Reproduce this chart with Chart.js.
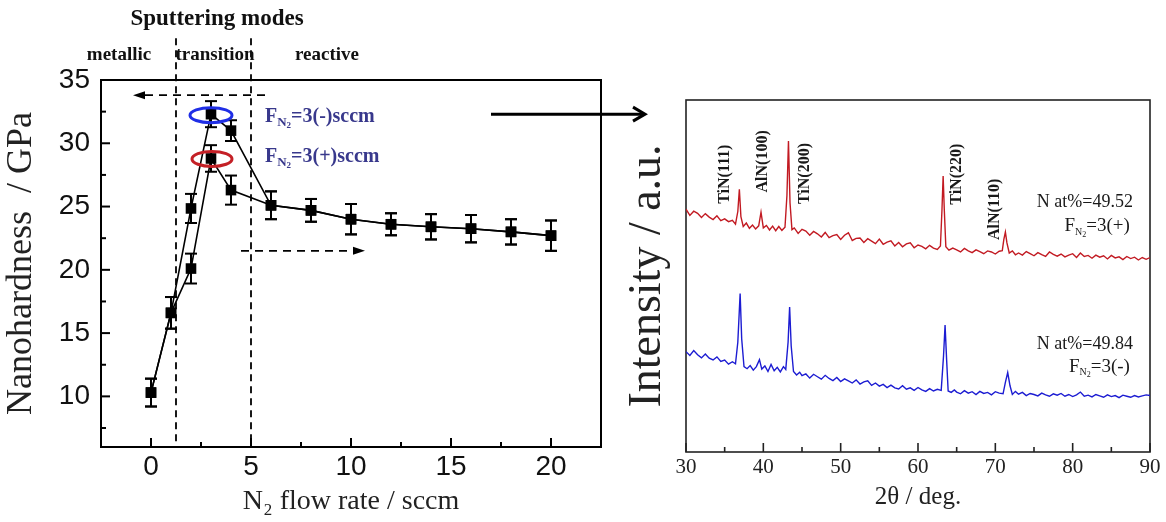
<!DOCTYPE html>
<html>
<head>
<meta charset="utf-8">
<script src="https://cdn.jsdelivr.net/npm/chart.js@4.4.1/dist/chart.umd.min.js"></script>
<style>
  html, body { margin: 0; padding: 0; background: #fff; }
  #wrap { position: relative; width: 1166px; height: 522px; overflow: hidden; }
  canvas { position: absolute; top: 0; }
  #hard { left: 0; }
  #xrd { left: 620px; }
</style>
</head>
<body>
<div id="wrap">
  <canvas id="xrd" width="546" height="522"></canvas>
  <canvas id="hard" width="660" height="522"></canvas>
</div>
<script>
// ---- left panel: nanohardness vs N2 flow ----
const flowRate      = [0, 1, 2, 3, 4, 6, 8, 10, 12, 14, 16, 18, 20];
const hardnessPlus  = [10.3, 16.6, 20.1, 28.8, 26.3, 25.1, 24.7, 24.0, 23.6, 23.4, 23.25, 23.0, 22.7];
const errPlus       = [1.1, 1.25, 1.18, 1.05, 1.15, 1.1, 0.9, 1.2, 0.87, 1.0, 1.08, 1.0, 1.2];
const hardnessMinus = [10.3, 16.6, 24.85, 32.3, 31.0, 25.1, 24.7, 24.0, 23.6, 23.4, 23.25, 23.0, 22.7];
const errMinus      = [1.1, 1.25, 1.15, 1.03, 0.82, 1.1, 0.9, 1.2, 0.87, 1.0, 1.08, 1.0, 1.2];
const flowTicks  = [0, 5, 10, 15, 20];
const flowMinor  = [2.5, 7.5, 12.5, 17.5];
const hardTicks  = [10, 15, 20, 25, 30, 35];
const hardMinor  = [7.5, 12.5, 17.5, 22.5, 27.5, 32.5];
const modeBounds = [1.25, 5];
const modeNames  = ['metallic', 'transition', 'reactive'];

// ---- right panel: XRD patterns ----
const redTheta = [30,30.5,31,31.5,32,32.5,33,33.5,34,34.5,35,35.5,36,36.4,
  36.7,36.9,37.1,37.4,37.8,38.2,38.6,39,39.4,39.7,40,40.4,40.8,41.2,41.6,42,42.4,42.8,43.05,43.25,43.45,43.7,
  44,44.5,45,45.5,46,46.5,47,47.5,48,48.5,49,49.5,50,50.5,51,51.5,52,52.5,53,53.5,54,54.5,55,55.5,56,56.5,57,57.5,58,58.5,59,59.5,60,60.5,61,61.5,62,62.5,
  62.9,63.1,63.25,63.4,63.6,
  64,64.5,65,65.5,66,66.5,67,67.5,68,68.5,69,69.5,70,70.5,
  70.9,71.1,71.3,71.5,71.8,72.2,72.6,
  73,73.5,74,74.5,75,75.5,76,76.5,77,77.5,78,78.5,79,79.5,80,80.5,81,81.5,82,82.5,83,83.5,84,84.5,85,85.5,86,86.5,87,87.5,88,88.5,89,89.5,90];
const redCounts = [68.2,66.4,67.6,67.0,65.8,66.9,65.9,65.2,66.3,64.9,65.4,64.6,65.0,63.9,
  67.5,73.9,66.0,63.2,64.2,62.7,63.6,62.5,63.4,67.3,62.8,63.5,62.2,63.3,62.0,63.2,62.1,63.0,72.0,87.7,70.0,62.3,
  62.8,61.2,62.4,61.9,60.7,61.8,61.1,60.2,61.5,60.0,60.6,60.9,59.5,60.7,61.4,59.2,59.8,59.9,58.6,59.7,59.0,58.3,59.6,58.1,58.7,59.1,57.6,58.6,57.4,58.2,58.5,57.1,57.9,57.5,56.8,57.8,57.0,56.6,
  57.6,68.0,77.7,68.0,57.4,
  56.4,57.0,56.5,55.9,56.9,56.2,55.7,56.5,56.0,55.4,56.2,55.9,55.3,56.1,
  56.3,59.5,61.6,58.5,55.6,56.2,55.1,
  55.6,55.0,56.0,55.4,54.8,55.7,55.1,54.6,55.9,55.2,54.7,55.3,54.5,55.0,55.4,54.3,55.6,54.6,54.9,54.1,55.0,54.4,54.8,53.9,54.9,54.2,54.5,53.7,54.6,54.0,54.4,53.6,54.3,53.8,54.3];
const blueTheta = [30,30.5,31,31.5,32,32.5,33,33.5,34,34.5,35,35.5,36,36.4,
  36.7,37.0,37.2,37.5,37.9,38.3,38.7,39.1,39.5,39.8,40.2,40.6,41.0,41.4,41.8,42.2,42.6,42.9,43.2,43.4,43.6,43.9,
  44.3,44.7,45,45.5,46,46.5,47,47.5,48,48.5,49,49.5,50,50.5,51,51.5,52,52.5,53,53.5,54,54.5,55,55.5,56,56.5,57,57.5,58,58.5,59,59.5,60,60.5,61,61.5,62,62.5,
  63.0,63.3,63.5,63.7,63.9,
  64.3,64.7,65,65.5,66,66.5,67,67.5,68,68.5,69,69.5,70,70.5,
  71.0,71.3,71.6,71.9,72.2,72.6,
  73,73.5,74,74.5,75,75.5,76,76.5,77,77.5,78,78.5,79,79.5,80,80.5,81,81.5,82,82.5,83,83.5,84,84.5,85,85.5,86,86.5,87,87.5,88,88.5,89,89.5,90];
const blueCounts = [27.3,26.2,27.6,26.4,25.5,26.6,25.4,24.9,25.8,24.5,24.9,23.7,24.4,23.8,
  30.0,44.0,31.0,23.0,22.4,23.3,22.0,23.0,25.0,22.3,23.2,21.6,23.6,21.8,22.8,21.5,23.0,22.2,30.0,40.1,29.0,21.6,
  20.6,21.4,20.4,20.9,19.7,20.8,20.1,19.4,20.5,19.6,19.0,19.9,18.7,19.5,18.9,18.3,19.2,18.0,18.6,18.9,17.6,18.3,17.4,17.9,17.0,17.7,16.9,16.6,17.5,16.5,16.9,16.2,17.0,16.3,15.9,16.7,16.0,16.5,
  16.2,26.0,34.9,25.0,16.0,
  15.6,16.3,15.7,15.2,16.1,15.4,15.8,15.0,15.9,15.3,15.6,14.9,15.8,15.4,
  15.2,18.5,21.3,17.5,15.0,15.9,
  15.1,15.6,14.7,15.3,15.0,14.6,15.4,14.9,14.5,15.2,14.8,15.3,14.5,15.0,14.4,14.9,15.7,14.5,14.8,14.3,15.0,14.6,14.2,14.9,14.4,14.7,14.1,14.8,14.5,14.2,14.7,14.3,14.6,14.9,14.7];
const thetaTicks = [30, 40, 50, 60, 70, 80, 90];
const thetaMinor = [35, 45, 55, 65, 75, 85];
const peakNames  = ['TiN(111)', 'AlN(100)', 'TiN(200)', 'TiN(220)', 'AlN(110)'];

const SERIF = '"Liberation Serif", "Times New Roman", serif';
const SANS = '"Liberation Sans", Arial, sans-serif';

function seg(ctx, x1, y1, x2, y2) {
  ctx.beginPath(); ctx.moveTo(x1, y1); ctx.lineTo(x2, y2); ctx.stroke();
}
const pairs = (xs, ys) => xs.map((v, i) => ({ x: v, y: ys[i] }));

// F with N2 subscript; align 'left' or 'right'
function drawFlowLabel(ctx, px, py, tail, big, sub, subsub, weight, color, align) {
  ctx.save();
  ctx.fillStyle = color;
  ctx.textBaseline = 'middle';
  ctx.textAlign = 'left';
  const fBig = `${weight} ${big}px ${SERIF}`, fSub = `${weight} ${sub}px ${SERIF}`, fSS = `${weight} ${subsub}px ${SERIF}`;
  ctx.font = fBig; const wF = ctx.measureText('F').width, wT = ctx.measureText(tail).width;
  ctx.font = fSub; const wN = ctx.measureText('N').width;
  ctx.font = fSS; const w2 = ctx.measureText('2').width;
  let x0 = align === 'right' ? px - (wF + wN + w2 + wT) : px;
  ctx.font = fBig; ctx.fillText('F', x0, py); x0 += wF;
  ctx.font = fSub; ctx.fillText('N', x0, py + big * 0.3); x0 += wN;
  ctx.font = fSS; ctx.fillText('2', x0, py + big * 0.45); x0 += w2;
  ctx.font = fBig; ctx.fillText(tail, x0, py);
  ctx.restore();
}

const hardDeco = {
  id: 'hardDeco',
  beforeDatasetsDraw(chart) {
    const { ctx, chartArea: a, scales: { x, y } } = chart;
    ctx.save();
    ctx.strokeStyle = '#000';
    ctx.fillStyle = '#000';
    ctx.lineWidth = 2;
    ctx.strokeRect(a.left, a.top, a.right - a.left, a.bottom - a.top);
    flowTicks.forEach(v => { const p = x.getPixelForValue(v); seg(ctx, p, a.bottom, p, a.bottom - 9); });
    flowMinor.forEach(v => { const p = x.getPixelForValue(v); seg(ctx, p, a.bottom, p, a.bottom - 5); });
    hardTicks.forEach(v => { const p = y.getPixelForValue(v); seg(ctx, a.left, p, a.left + 9, p); });
    hardMinor.forEach(v => { const p = y.getPixelForValue(v); seg(ctx, a.left, p, a.left + 5, p); });

    // sputtering mode boundaries
    ctx.lineWidth = 1.8;
    ctx.setLineDash([7, 5]);
    modeBounds.forEach(v => {
      const p = x.getPixelForValue(v);
      seg(ctx, p, y.getPixelForValue(38.3), p, a.bottom);
    });
    // dashed axis arrows
    [{ from: 5.7, to: -0.9, at: 33.8 }, { from: 4.5, to: 10.7, at: 21.5 }].forEach(d => {
      const x1 = x.getPixelForValue(d.from), x2 = x.getPixelForValue(d.to), py = y.getPixelForValue(d.at);
      const dir = Math.sign(x2 - x1);
      ctx.setLineDash([8, 6]);
      seg(ctx, x1, py, x2 - dir * 8, py);
      ctx.setLineDash([]);
      ctx.beginPath();
      ctx.moveTo(x2, py); ctx.lineTo(x2 - dir * 12, py - 4); ctx.lineTo(x2 - dir * 12, py + 4);
      ctx.closePath(); ctx.fill();
    });
    ctx.restore();
  },
  afterDatasetsDraw(chart) {
    const { ctx, scales: { x, y } } = chart;
    ctx.save();
    ctx.strokeStyle = '#000';
    ctx.lineWidth = 2;
    chart.data.datasets.forEach((ds, i) => {
      const meta = chart.getDatasetMeta(i);
      meta.data.forEach((pt, j) => {
        const v = ds.data[j].y, e = ds.err[j];
        const t = y.getPixelForValue(v + e), b = y.getPixelForValue(v - e);
        seg(ctx, pt.x, t, pt.x, b);
        seg(ctx, pt.x - 6, t, pt.x + 6, t);
        seg(ctx, pt.x - 6, b, pt.x + 6, b);
      });
    });
    // highlight rings around the two 3 sccm points
    ctx.lineWidth = 3;
    ctx.strokeStyle = '#1f2ee6';
    ctx.beginPath();
    ctx.ellipse(x.getPixelForValue(flowRate[3]), y.getPixelForValue(hardnessMinus[3]) + 1, 21, 7.5, 0, 0, Math.PI * 2);
    ctx.stroke();
    ctx.strokeStyle = '#c42026';
    ctx.beginPath();
    ctx.ellipse(x.getPixelForValue(flowRate[3]) + 1, y.getPixelForValue(hardnessPlus[3]) + 0.5, 20, 7.5, 0, 0, Math.PI * 2);
    ctx.stroke();
    ctx.restore();
  },
  afterDraw(chart) {
    const { ctx, scales: { x, y } } = chart;
    ctx.save();
    ctx.fillStyle = '#111';
    ctx.textAlign = 'center';
    ctx.textBaseline = 'middle';
    ctx.font = `bold 23px ${SERIF}`;
    ctx.fillText('Sputtering modes', x.getPixelForValue(3.3), y.getPixelForValue(39.8));
    ctx.font = `bold 19px ${SERIF}`;
    [-1.6, 3.2, 8.8].forEach((v, i) => ctx.fillText(modeNames[i], x.getPixelForValue(v), y.getPixelForValue(37.0)));
    ctx.restore();

    drawFlowLabel(ctx, x.getPixelForValue(5.7), y.getPixelForValue(32.1), '=3(-)sccm', 20, 13, 9, 'bold', '#38388c', 'left');
    drawFlowLabel(ctx, x.getPixelForValue(5.7), y.getPixelForValue(28.95), '=3(+)sccm', 20, 13, 9, 'bold', '#38388c', 'left');

    // arrow pointing to the XRD panel
    ctx.save();
    ctx.strokeStyle = '#000';
    ctx.lineWidth = 3;
    const py = y.getPixelForValue(32.3), x1 = x.getPixelForValue(17), x2 = x.getPixelForValue(24.7);
    seg(ctx, x1, py, x2 - 1, py);
    ctx.beginPath();
    ctx.moveTo(x2 - 12, py - 7); ctx.lineTo(x2, py); ctx.lineTo(x2 - 12, py + 7);
    ctx.stroke();
    ctx.restore();
  }
};

const xrdDeco = {
  id: 'xrdDeco',
  beforeDatasetsDraw(chart) {
    const { ctx, chartArea: a, scales: { x } } = chart;
    ctx.save();
    ctx.strokeStyle = '#222';
    ctx.lineWidth = 1.6;
    ctx.strokeRect(a.left, a.top, a.right - a.left, a.bottom - a.top);
    thetaTicks.forEach(v => { const p = x.getPixelForValue(v); seg(ctx, p, a.bottom, p, a.bottom - 9); });
    thetaMinor.forEach(v => { const p = x.getPixelForValue(v); seg(ctx, p, a.bottom, p, a.bottom - 5); });
    ctx.restore();
  },
  afterDatasetsDraw(chart) {
    const { ctx, scales: { x, y } } = chart;
    ctx.save();
    ctx.fillStyle = '#1a1a1a';
    ctx.textAlign = 'center';
    ctx.textBaseline = 'middle';
    ctx.font = `bold 16px ${SERIF}`;
    [[35.0, 78.2], [40.0, 81.9], [45.4, 78.4], [65.0, 78.2], [70.0, 68.1]].forEach((p, i) => {
      ctx.save();
      ctx.translate(x.getPixelForValue(p[0]), y.getPixelForValue(p[1]));
      ctx.rotate(-Math.PI / 2);
      ctx.fillText(peakNames[i], 0, 0);
      ctx.restore();
    });
    ctx.textAlign = 'right';
    ctx.font = `18px ${SERIF}`;
    ctx.fillText('N at%=49.52', x.getPixelForValue(87.8), y.getPixelForValue(70.1));
    ctx.fillText('N at%=49.84', x.getPixelForValue(87.8), y.getPixelForValue(29.3));
    ctx.restore();
    drawFlowLabel(ctx, x.getPixelForValue(87.4), y.getPixelForValue(63.2), '=3(+)', 19, 10, 8, 'normal', '#1a1a1a', 'right');
    drawFlowLabel(ctx, x.getPixelForValue(87.4), y.getPixelForValue(23.0), '=3(-)', 19, 10, 8, 'normal', '#1a1a1a', 'right');
  }
};

const fixTicks = list => s => { s.ticks = list.map(v => ({ value: v })); };

new Chart(document.getElementById('hard'), {
  type: 'line',
  data: {
    datasets: [
      { label: 'FN2 = 3(+)', data: pairs(flowRate, hardnessPlus), err: errPlus },
      { label: 'FN2 = 3(-)', data: pairs(flowRate, hardnessMinus), err: errMinus }
    ].map(d => Object.assign(d, {
      borderColor: '#000', borderWidth: 1.6, tension: 0,
      pointStyle: 'rect', pointRadius: 7.5, pointBackgroundColor: '#000', pointBorderWidth: 0
    }))
  },
  options: {
    responsive: false,
    animation: false,
    layout: { padding: { top: 80, right: 59, left: 0, bottom: 0 } },
    plugins: { legend: { display: false }, tooltip: { enabled: false } },
    scales: {
      x: {
        type: 'linear', min: -2.5, max: 22.5,
        afterBuildTicks: fixTicks(flowTicks),
        afterFit: s => { s.height = 75; },
        grid: { display: false, drawTicks: false },
        border: { display: false },
        ticks: { font: { family: SANS, size: 28 }, color: '#111', padding: 3, maxRotation: 0, callback: v => String(v) },
        title: { display: true, text: 'N₂ flow rate / sccm', font: { family: SERIF, size: 28 }, color: '#222', padding: { top: 0, bottom: 4 } }
      },
      y: {
        min: 6, max: 35,
        afterBuildTicks: fixTicks(hardTicks),
        afterFit: s => { s.width = 101; },
        grid: { display: false, drawTicks: false },
        border: { display: false },
        ticks: { font: { family: SANS, size: 28 }, color: '#111', padding: 11, callback: v => String(v) },
        title: { display: true, text: 'Nanohardness  / GPa', font: { family: SERIF, size: 36 }, color: '#222', padding: 0 }
      }
    }
  },
  plugins: [hardDeco]
});

new Chart(document.getElementById('xrd'), {
  type: 'line',
  data: {
    datasets: [
      { label: 'N at%=49.52, FN2=3(+)', data: pairs(redTheta, redCounts), borderColor: '#c21a22' },
      { label: 'N at%=49.84, FN2=3(-)', data: pairs(blueTheta, blueCounts), borderColor: '#1c1cd2' }
    ].map(d => Object.assign(d, { borderWidth: 1.4, pointRadius: 0, tension: 0 }))
  },
  options: {
    responsive: false,
    animation: false,
    layout: { padding: { top: 100, right: 16, left: 0, bottom: 0 } },
    plugins: { legend: { display: false }, tooltip: { enabled: false } },
    scales: {
      x: {
        type: 'linear', min: 30, max: 90,
        afterBuildTicks: fixTicks(thetaTicks),
        afterFit: s => { s.height = 70; },
        grid: { display: false, drawTicks: false },
        border: { display: false },
        ticks: { font: { family: SERIF, size: 21 }, color: '#222', padding: 3, maxRotation: 0, callback: v => String(v) },
        title: { display: true, text: '2θ / deg.', font: { family: SERIF, size: 25 }, color: '#222', padding: { top: 0, bottom: 10 } }
      },
      y: {
        min: -1.5, max: 99.5,
        afterFit: s => { s.width = 66; },
        grid: { display: false, drawTicks: false },
        border: { display: false },
        ticks: { display: false },
        title: { display: true, text: 'Intensity / a.u.', font: { family: SERIF, size: 46 }, color: '#222', padding: 0 }
      }
    }
  },
  plugins: [xrdDeco]
});
</script>
</body>
</html>
